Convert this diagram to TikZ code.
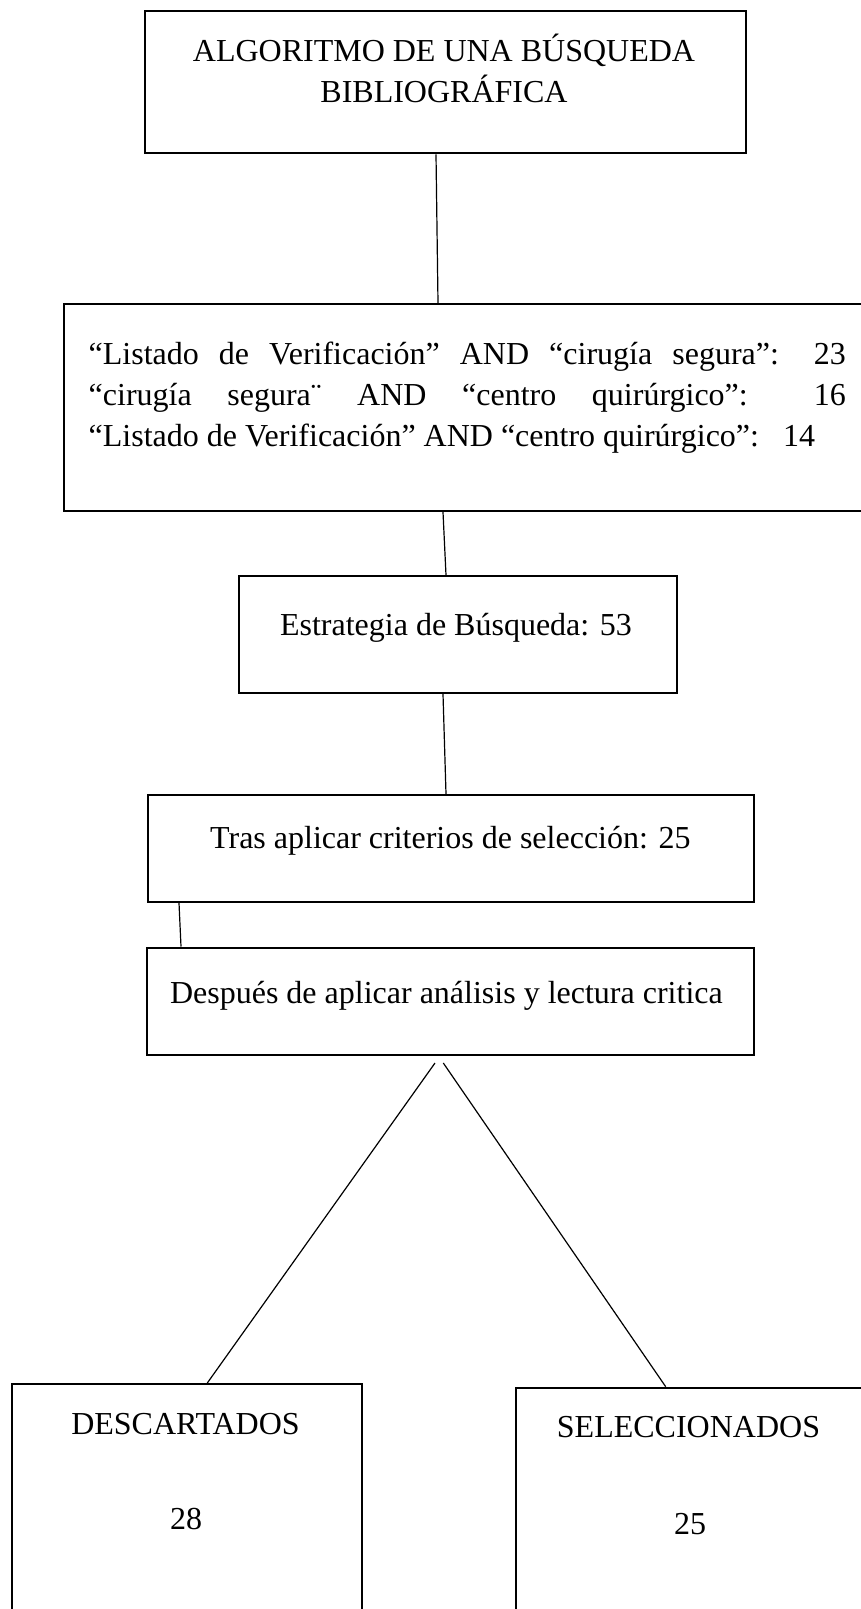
\documentclass[tikz,border=0pt]{standalone}
\usepackage{fontspec}
\setmainfont{Liberation Serif}
\begin{document}
\begin{tikzpicture}[x=1pt,y=-1pt,
  font=\fontsize{32}{42}\selectfont,
  boxnode/.style={draw=black,line width=2pt,rectangle,inner sep=0pt,anchor=north west},
  conn/.style={draw=black,line width=1.2pt},
  lbl/.style={inner sep=0pt,anchor=base}]
\useasboundingbox (0,0) rectangle (861,1609);
\clip (0,0) rectangle (861,1609);
% boxes
\node[boxnode,minimum width=601pt,minimum height=142pt] (top) at (144,10.3) {};
\node[boxnode,minimum width=830pt,minimum height=207pt] (box2) at (63,303) {};
\node[boxnode,minimum width=438.5pt,minimum height=117pt] (box3) at (237.5,575) {};
\node[boxnode,minimum width=606pt,minimum height=107pt] (box4) at (147,794) {};
\node[boxnode,minimum width=607pt,minimum height=107.5pt] (box5) at (145.5,946.5) {};
\node[boxnode,minimum width=350pt,minimum height=260pt] (desc) at (11,1383) {};
\node[boxnode,minimum width=380pt,minimum height=260pt] (sel) at (515,1386.7) {};
% texts
\node[lbl] (t1a) at (444,61.5) {ALGORITMO DE UNA BÚSQUEDA};
\node[lbl] (t1b) at (444,102) {BIBLIOGRÁFICA};
\node[lbl,anchor=base west] (t2a) at (88.5,364) {\makebox[757pt][s]{“Listado de Verificación” AND “cirugía segura”: 23}};
\node[lbl,anchor=base west] (t2b) at (88.5,405) {\makebox[757pt][s]{“cirugía segura¨ AND “centro quirúrgico”: 16}};
\node[lbl,anchor=base west] (t2c) at (88.5,446) {“Listado de Verificación” AND “centro quirúrgico”:~~~14};
\node[lbl] (t3) at (456,635) {Estrategia de Búsqueda: 53};
\node[lbl] (t4) at (450.4,848) {Tras aplicar criterios de selección: 25};
\node[lbl] (t5) at (446.4,1003.5) {Después de aplicar análisis y lectura critica};
\node[lbl] (t6a) at (185.5,1434) {DESCARTADOS};
\node[lbl] (t6b) at (186,1529.5) {28};
\node[lbl] (t7a) at (688.5,1437) {SELECCIONADOS};
\node[lbl] (t7b) at (690,1534) {25};
% connectors
\draw[conn] ([xshift=292pt]top.south west) -- ([xshift=375pt]box2.north west);
\draw[conn] ([xshift=380pt]box2.south west) -- ([xshift=208.5pt]box3.north west);
\draw[conn] ([xshift=205.5pt]box3.south west) -- ([xshift=299pt]box4.north west);
\draw[conn] ([xshift=32pt]box4.south west) -- ([xshift=35.5pt]box5.north west);
\coordinate (forkL) at (435,1063);
\coordinate (forkR) at (443.3,1063);
\draw[conn] (forkL) -- ([xshift=196.3pt]desc.north west);
\draw[conn] (forkR) -- ([xshift=150.7pt]sel.north west);
\end{tikzpicture}
\end{document}
